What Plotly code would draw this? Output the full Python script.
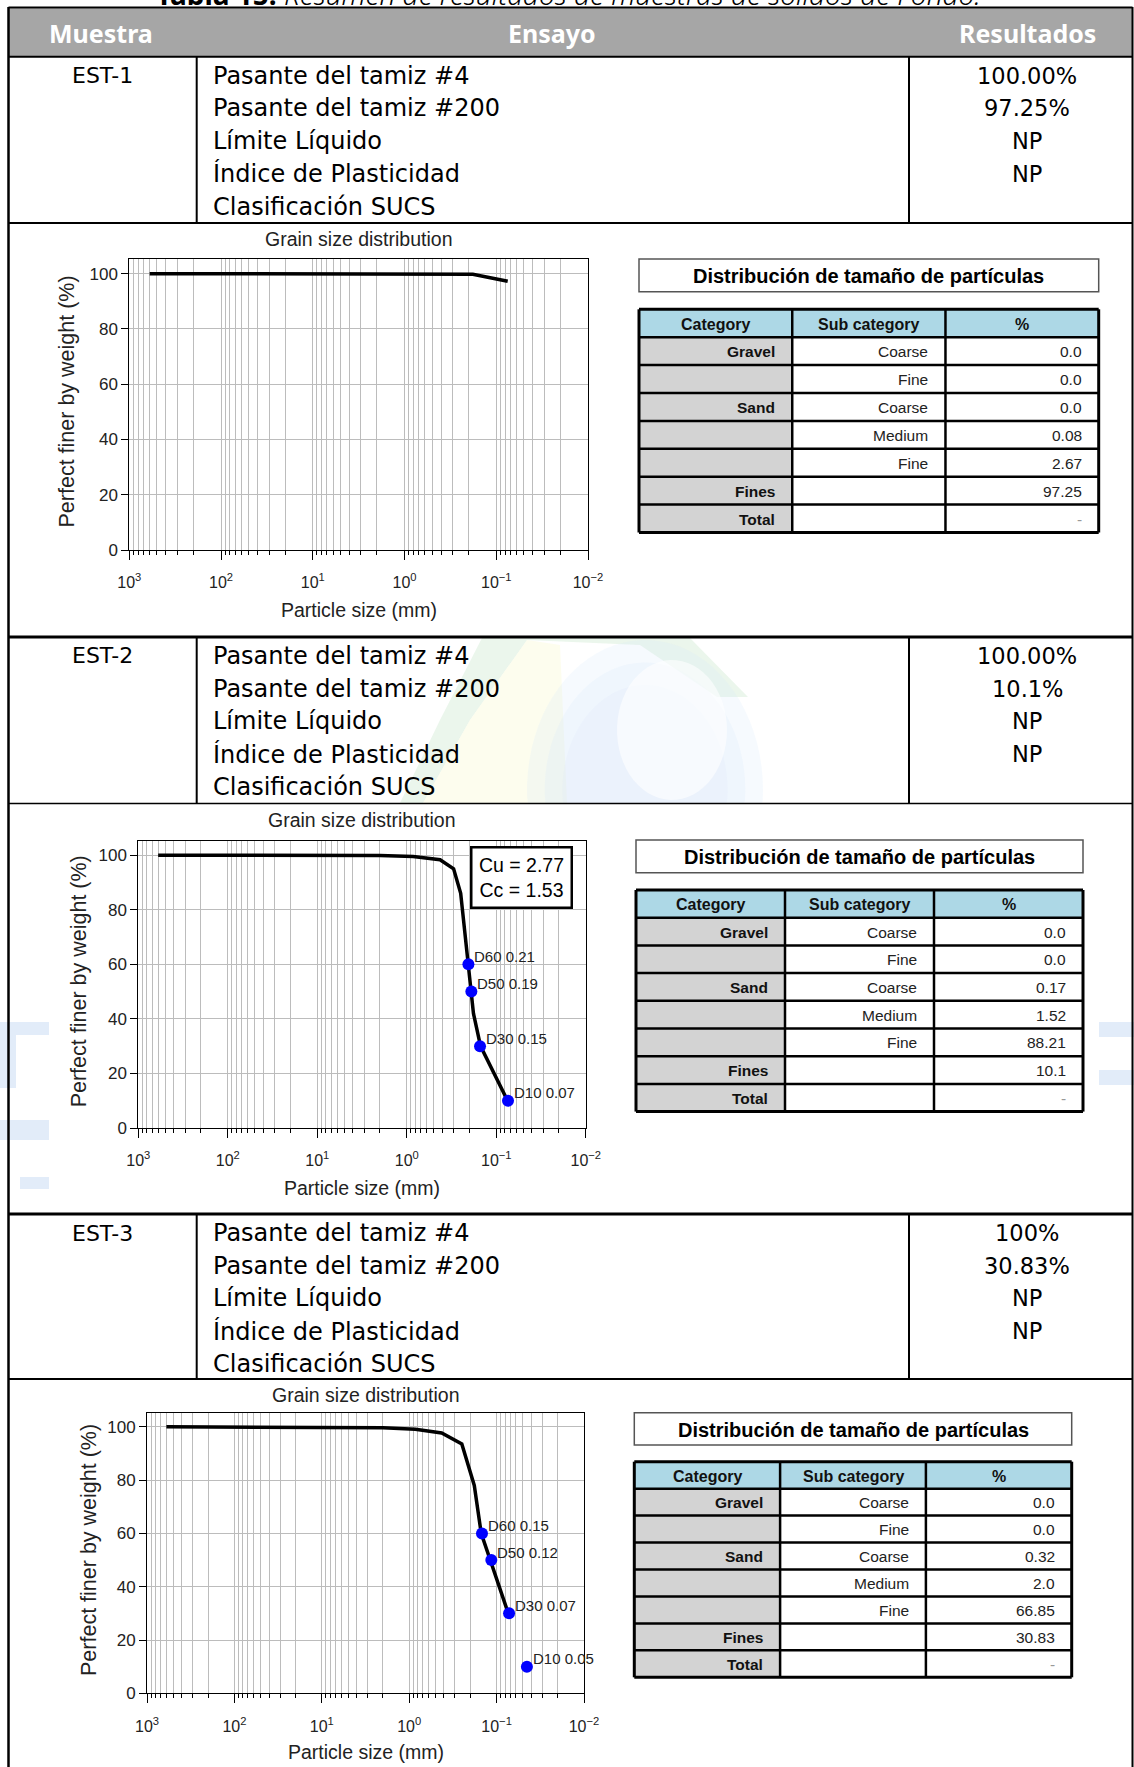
import numpy as np
import plotly.graph_objects as go

W, H = 1134, 1767

# ---------------- data ----------------
caption = "<b>Tabla 15.</b> <i>Resumen de resultados de muestras de sólidos de Fondo.</i>"
col_headers = ["Muestra", "Ensayo", "Resultados"]
muestras = ["EST-1", "EST-2", "EST-3"]
ensayos = ["Pasante del tamiz #4", "Pasante del tamiz #200", "Límite Líquido",
           "Índice de Plasticidad", "Clasificación SUCS"]
resultados_1 = ["100.00%", "97.25%", "NP", "NP", ""]
resultados_2 = ["100.00%", "10.1%", "NP", "NP", ""]
resultados_3 = ["100%", "30.83%", "NP", "NP", ""]

chart_title = "Grain size distribution"
x_title = "Particle size (mm)"
y_title = "Perfect finer by weight (%)"
decades = [1000, 100, 10, 1, 0.1, 0.01]
decade_labels = ["10<sup>3</sup>", "10<sup>2</sup>", "10<sup>1</sup>", "10<sup>0</sup>",
                 "10<sup>−1</sup>", "10<sup>−2</sup>"]
y_ticks = [0, 20, 40, 60, 80, 100]

size_1 = [600, 4.75, 2.0, 0.85, 0.425, 0.18, 0.075]
pass_1 = [100, 100, 100, 100, 99.92, 99.8, 97.25]

size_2 = [600, 75, 19, 4.75, 2.0, 0.85, 0.425, 0.3, 0.25, 0.18, 0.15, 0.075]
pass_2 = [100, 100, 100, 100, 99.83, 99.5, 98.31, 95.0, 86.0, 42.0, 30.0, 10.1]
d_x_2 = [0.205, 0.19, 0.152, 0.074]
d_y_2 = [60, 50, 30, 10]
d_lab_2 = ["D60 0.21", "D50 0.19", "D30 0.15", "D10 0.07"]
coef_2 = ["Cu = 2.77", "Cc = 1.53"]

size_3 = [600, 4.75, 2.0, 0.85, 0.425, 0.25, 0.18, 0.15, 0.075]
pass_3 = [100, 100, 99.68, 99.1, 97.68, 93.6, 78.0, 60.0, 30.83]
d_x_3 = [0.147, 0.115, 0.072, 0.045]
d_y_3 = [60, 50, 30, 10]
d_lab_3 = ["D60 0.15", "D50 0.12", "D30 0.07", "D10 0.05"]

tab_title = "Distribución de tamaño de partículas"
tab_head = ["Category", "Sub category", "%"]
tab_cat = ["Gravel", "", "Sand", "", "", "Fines", "Total"]
tab_sub = ["Coarse", "Fine", "Coarse", "Medium", "Fine", "", ""]
tab_pct_1 = ["0.0", "0.0", "0.0", "0.08", "2.67", "97.25", "-"]
tab_pct_2 = ["0.0", "0.0", "0.17", "1.52", "88.21", "10.1", "-"]
tab_pct_3 = ["0.0", "0.0", "0.32", "2.0", "66.85", "30.83", "-"]

# ---------------- helpers ----------------
def px(x):
    return x / W

def py(y):
    return 1 - y / H

CH = "Liberation Sans"
TF = "Noto Sans"
RF = "DejaVu Sans"

fig = go.Figure()
shapes = []
annotations = []

def line(x0, y0, x1, y1, w=2, color="black", layer="above"):
    shapes.append(dict(type="line", xref="paper", yref="paper", x0=px(x0), y0=py(y0),
                       x1=px(x1), y1=py(y1), line=dict(color=color, width=w), layer=layer))

def rect(x0, y0, x1, y1, fill, lw=0, lc="black", layer="below"):
    shapes.append(dict(type="rect", xref="paper", yref="paper", x0=px(x0), y0=py(y0),
                       x1=px(x1), y1=py(y1), fillcolor=fill,
                       line=dict(color=lc, width=lw), layer=layer))

def poly(pts, fill, layer="below"):
    d = "M " + " L ".join(f"{px(a):.5f},{py(b):.5f}" for a, b in pts) + " Z"
    shapes.append(dict(type="path", xref="paper", yref="paper", path=d, fillcolor=fill,
                       line=dict(width=0), layer=layer))

def text(x, y, s, size, family=TF, color="black", xanchor="center", yanchor="middle",
         weight="normal", **kw):
    annotations.append(dict(x=px(x), y=py(y), xref="paper", yref="paper", text=s,
                            showarrow=False, xanchor=xanchor, yanchor=yanchor,
                            font=dict(family=family, size=size, color=color, weight=weight),
                            **kw))

# ---------------- watermark (faint) ----------------
poly([(400, 803), (440, 720), (482, 638), (690, 638), (748, 697), (717, 697),
      (640, 645), (527, 640), (470, 720), (423, 803)], "rgba(205,232,208,0.4)")
poly([(423, 803), (470, 720), (527, 640), (560, 645), (567, 803)], "rgba(252,252,222,0.5)")
for rr, alpha in [(1.0, 0.22), (0.85, 0.22), (0.7, 0.18)]:
    circ = [(645 + 118 * rr * np.cos(t), min(803, max(638, 790 + 150 * rr * np.sin(t))))
            for t in np.linspace(0, 2 * np.pi, 80)]
    poly(circ, f"rgba(214,230,250,{alpha})")
circ2 = [(672 + 55 * np.cos(t), min(803, max(638, 730 + 70 * np.sin(t))))
         for t in np.linspace(0, 2 * np.pi, 60)]
poly(circ2, "rgba(255,255,255,0.6)")
wm = "rgba(214,228,247,0.7)"
rect(0, 1022, 49, 1035, wm)
rect(0, 1035, 16, 1088, wm)
rect(0, 1120, 49, 1140, wm)
rect(20, 1177, 49, 1189, wm)
rect(1099, 1022, 1134, 1037, wm)
rect(1099, 1070, 1134, 1085, wm)

# ---------------- main table frame ----------------
rect(8.5, 8.3, 1132.5, 56.7, "#a6a6a6")
LX, RX, C1, C2 = 8.5, 1132.5, 196.7, 909
line(LX, 7, LX, H, 2.5)
line(RX, 7, RX, H, 2)
line(LX, 7.5, RX, 7.5, 2)
line(LX, 56.7, RX, 56.7, 2)
rows = [(56.7, 223), (637, 803.5), (1214, 1379)]
for (t, b), thick in zip(rows, [2, 1.5, 2]):
    line(C1, t, C1, b, 2)
    line(C2, t, C2, b, 2)
    line(LX, b, RX, b, thick)
line(LX, 637, RX, 637, 3)
line(LX, 1214, RX, 1214, 3)

text(101, 33, "<b>" + col_headers[0] + "</b>", 25, color="white")
text(552, 33, "<b>" + col_headers[1] + "</b>", 25, color="white")
text(1027, 33, "<b>" + col_headers[2] + "</b>", 25, color="white")
text(568, 15, caption, 28, yanchor="bottom", weight=300)

for (t, b), m, res in zip(rows, muestras, [resultados_1, resultados_2, resultados_3]):
    text(102, t + 19, m, 22, family=RF)
    for k, (e, r) in enumerate(zip(ensayos, res)):
        yy = t + 19 + 32.7 * k
        text(211, yy, e, 24, family=RF, xanchor="left")
        if r:
            text(1027, yy, r, 22.5, family=RF)

# ---------------- charts ----------------
minor_vals = [m * 10.0 ** k for k in range(-2, 3) for m in range(2, 10)]
GRID = "#bcbcbc"

chart_boxes = [(129.3, 588, 259, 550), (138.3, 585.8, 840.7, 1128), (147, 584, 1412.7, 1693.3)]
title_ys = [239, 820, 1395]
xtitle_ys = [610, 1188, 1752]
ytitle_xs = [67, 79, 89]
curves = [(size_1, pass_1), (size_2, pass_2), (size_3, pass_3)]
dmarks = [None, (d_x_2, d_y_2, d_lab_2), (d_x_3, d_y_3, d_lab_3)]

layout_axes = {}
for i, ((l, r, t, b), (sx, sy), dm) in enumerate(zip(chart_boxes, curves, dmarks), start=1):
    xa = "x" if i == 1 else f"x{i}"
    ya = "y" if i == 1 else f"y{i}"
    xk = "xaxis" if i == 1 else f"xaxis{i}"
    yk = "yaxis" if i == 1 else f"yaxis{i}"
    layout_axes[xk] = dict(
        type="log", range=[3, -2], domain=[px(l), px(r)], anchor=ya, automargin=False,
        tickmode="array", tickvals=decades, ticktext=decade_labels,
        ticks="outside", ticklen=9, tickcolor="black", tickwidth=1,
        showgrid=True, gridcolor=GRID, gridwidth=1, zeroline=False,
        showline=True, linecolor="black", linewidth=1, mirror=True,
        tickfont=dict(family=CH, size=16, color="#222"), ticklabelstandoff=9,
        minor=dict(tickmode="array", tickvals=minor_vals, ticks="outside", ticklen=4,
                   tickcolor="black", showgrid=True, gridcolor=GRID, gridwidth=1),
        fixedrange=True)
    layout_axes[yk] = dict(
        range=[0, 105.3], domain=[py(b), py(t)], anchor=xa, automargin=False,
        tickmode="array", tickvals=y_ticks, ticks="outside", ticklen=7,
        tickcolor="black", showgrid=True, gridcolor=GRID, gridwidth=1, zeroline=False,
        showline=True, linecolor="black", linewidth=1, mirror=True,
        tickfont=dict(family=CH, size=17, color="#222"), fixedrange=True)
    fig.add_trace(go.Scatter(x=sx, y=sy, mode="lines", line=dict(color="black", width=3.5),
                             xaxis=xa, yaxis=ya, showlegend=False, hoverinfo="skip"))
    if dm is not None:
        dx, dy, dl = dm
        fig.add_trace(go.Scatter(x=dx, y=dy, mode="markers",
                                 marker=dict(color="#0000ff", size=12),
                                 xaxis=xa, yaxis=ya, showlegend=False, hoverinfo="skip"))
        for xv, yv, lab in zip(dx, dy, dl):
            annotations.append(dict(x=np.log10(xv), y=yv, xref=xa, yref=ya, text=lab,
                                    showarrow=False, xanchor="left", yanchor="middle",
                                    xshift=4, yshift=8,
                                    font=dict(family=CH, size=15, color="#222")))
    text((l + r) / 2, title_ys[i - 1], chart_title, 19.5, family=CH, color="#222")
    text((l + r) / 2, xtitle_ys[i - 1], x_title, 19.5, family=CH, color="#222")
    annotations.append(dict(x=px(ytitle_xs[i - 1]), y=py((t + b) / 2 - 3), xref="paper",
                            yref="paper", text=y_title, textangle=-90, showarrow=False,
                            xanchor="center", yanchor="middle",
                            font=dict(family=CH, size=21.5, color="#222")))

# Cu / Cc box
annotations.append(dict(x=px(521), y=py(877.5), xref="paper", yref="paper",
                        text="<br>".join(coef_2), showarrow=False, xanchor="center",
                        yanchor="middle", align="center", width=94, height=54,
                        bordercolor="black", borderwidth=2.5, borderpad=2, bgcolor="white",
                        font=dict(family=CH, size=19.5, color="black")))

# ---------------- particle tables (cells built from the table lists) ----------------
tab_boxes = [(639, 1098.7, 259, 291.7, 309.3, 27.9),
             (636, 1083, 840, 872.7, 890, 27.7),
             (634.3, 1071.7, 1412.7, 1445, 1461.7, 26.95)]
pcts = [tab_pct_1, tab_pct_2, tab_pct_3]
for (l, r, tt, tb, top, rh), pct in zip(tab_boxes, pcts):
    rect(l, tt, r, tb, "white", lw=1.5, lc="#555", layer="above")
    text((l + r) / 2, (tt + tb) / 2 + 1, "<b>" + tab_title + "</b>", 20, family=CH)
    cw = (r - l) / 3
    xs = [l + cw * k for k in range(4)]
    nrow = len(tab_cat) + 1
    bottom = top + rh * nrow
    rect(l, top, r, top + rh, "#add8e6", layer="above")
    rect(l, top + rh, xs[1], bottom, "#d3d3d3", layer="above")
    for k in range(nrow + 1):
        yy = top + rh * k
        line(l, yy, r, yy, 3 if k in (0, nrow) else 2.5)
    for k, xx in enumerate(xs):
        line(xx, top, xx, bottom, 3 if k in (0, 3) else 2.5)
    for k, h in enumerate(tab_head):
        text(xs[k] + cw / 2, top + rh / 2 + 1, "<b>" + h + "</b>", 16, family=CH, color="#111")
    for j, (c, s, p) in enumerate(zip(tab_cat, tab_sub, pct)):
        yy = top + rh * (j + 1.5) + 0.5
        if c:
            text(xs[1] - 15, yy, "<b>" + c + "</b>", 15.5, family=CH, color="#111",
                 xanchor="right")
        if s:
            text(xs[2] - 15, yy, s, 15.5, family=CH, color="#222", xanchor="right")
        text(xs[3] - 15, yy, p, 15.5, family=CH, color="#999" if p == "-" else "#222",
             xanchor="right")

fig.update_layout(width=W, height=H, autosize=False,
                  margin=dict(l=0, r=0, t=0, b=0, pad=0, autoexpand=False),
                  paper_bgcolor="white", plot_bgcolor="white", showlegend=False,
                  shapes=shapes, annotations=annotations, **layout_axes)

fig.write_html("out.html", config=dict(displayModeBar=False, responsive=False),
               post_script="document.body.style.margin='0';document.body.style.overflow='hidden';")
